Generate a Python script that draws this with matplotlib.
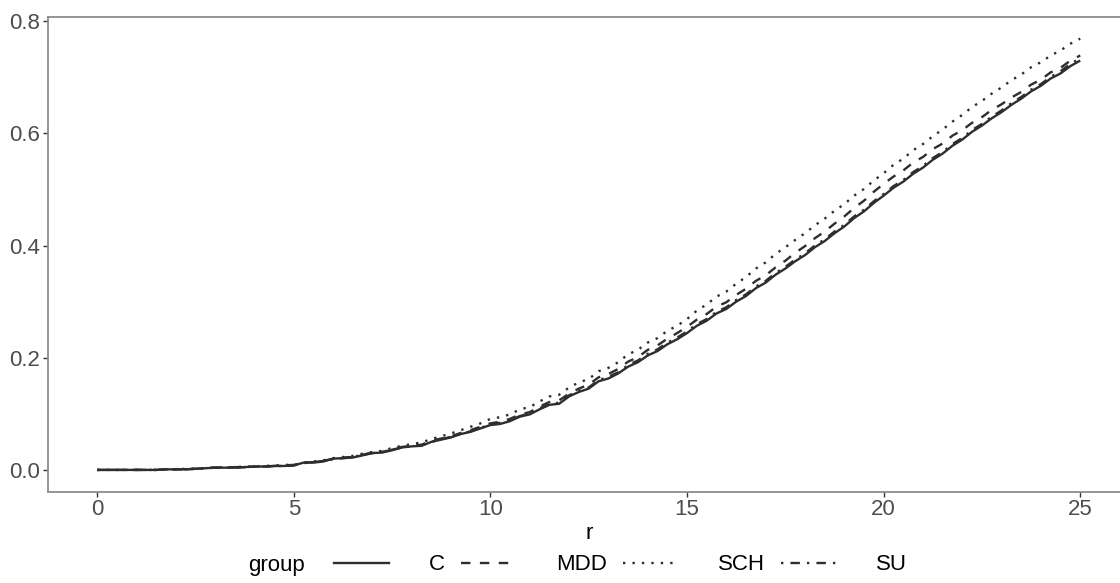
import matplotlib
matplotlib.use("Agg")
import matplotlib.pyplot as plt
from matplotlib.lines import Line2D
import numpy as np

plt.rcParams["font.family"] = ["Liberation Sans", "DejaVu Sans"]

# distance grid (step 0.25)
r = np.arange(0, 25.001, 0.25)

groups = ["C", "MDD", "SCH", "SU"]

C = [0.000, 0.000, 0.000, 0.000, 0.000, 0.000, 0.000, 0.001, 0.001, 0.001,
     0.002, 0.003, 0.004, 0.004, 0.004, 0.005, 0.006, 0.006, 0.007, 0.007,
     0.008, 0.013, 0.013, 0.015, 0.020, 0.021, 0.022, 0.026, 0.030, 0.031,
     0.035, 0.040, 0.042, 0.043, 0.050, 0.054, 0.058, 0.064, 0.068, 0.074,
     0.080, 0.082, 0.087, 0.095, 0.099, 0.108, 0.116, 0.118, 0.131, 0.139,
     0.145, 0.158, 0.163, 0.172, 0.184, 0.192, 0.204, 0.212, 0.224, 0.233,
     0.244, 0.257, 0.266, 0.279, 0.287, 0.300, 0.310, 0.324, 0.334, 0.348,
     0.359, 0.372, 0.383, 0.397, 0.408, 0.422, 0.434, 0.449, 0.461, 0.476,
     0.489, 0.503, 0.514, 0.528, 0.539, 0.553, 0.564, 0.578, 0.589, 0.603,
     0.614, 0.627, 0.638, 0.651, 0.662, 0.675, 0.685, 0.698, 0.707, 0.720,
     0.730]

MDD = [0.000, 0.000, 0.000, 0.000, 0.000, 0.000, 0.000, 0.001, 0.001, 0.001,
       0.002, 0.003, 0.004, 0.004, 0.005, 0.005, 0.006, 0.006, 0.007, 0.008,
       0.009, 0.013, 0.014, 0.016, 0.020, 0.022, 0.023, 0.027, 0.031, 0.032,
       0.036, 0.041, 0.043, 0.045, 0.052, 0.056, 0.060, 0.066, 0.071, 0.077,
       0.083, 0.086, 0.091, 0.099, 0.103, 0.113, 0.121, 0.124, 0.136, 0.145,
       0.152, 0.165, 0.171, 0.180, 0.193, 0.201, 0.214, 0.222, 0.234, 0.244,
       0.255, 0.268, 0.278, 0.291, 0.299, 0.312, 0.323, 0.337, 0.347, 0.361,
       0.373, 0.387, 0.399, 0.413, 0.425, 0.439, 0.452, 0.467, 0.480, 0.496,
       0.510, 0.523, 0.534, 0.548, 0.558, 0.572, 0.582, 0.596, 0.606, 0.619,
       0.629, 0.642, 0.652, 0.664, 0.674, 0.687, 0.696, 0.709, 0.717, 0.730,
       0.739]

SCH = [0.000, 0.000, 0.000, 0.000, 0.000, 0.000, 0.000, 0.001, 0.001, 0.002,
       0.002, 0.003, 0.004, 0.005, 0.005, 0.006, 0.006, 0.007, 0.008, 0.009,
       0.009, 0.013, 0.015, 0.017, 0.021, 0.023, 0.025, 0.029, 0.032, 0.034,
       0.039, 0.043, 0.046, 0.049, 0.055, 0.060, 0.065, 0.071, 0.077, 0.083,
       0.091, 0.094, 0.099, 0.108, 0.112, 0.122, 0.131, 0.134, 0.147, 0.156,
       0.162, 0.176, 0.182, 0.192, 0.206, 0.214, 0.227, 0.235, 0.248, 0.257,
       0.269, 0.284, 0.295, 0.309, 0.318, 0.332, 0.344, 0.359, 0.370, 0.385,
       0.397, 0.410, 0.422, 0.436, 0.448, 0.462, 0.474, 0.489, 0.501, 0.516,
       0.529, 0.544, 0.555, 0.570, 0.581, 0.595, 0.607, 0.621, 0.633, 0.647,
       0.658, 0.671, 0.682, 0.695, 0.705, 0.718, 0.727, 0.739, 0.748, 0.760,
       0.769]

SU = [0.000, 0.000, 0.000, 0.000, 0.000, 0.000, 0.000, 0.001, 0.001, 0.001,
      0.002, 0.003, 0.004, 0.004, 0.004, 0.005, 0.006, 0.006, 0.007, 0.007,
      0.008, 0.012, 0.014, 0.016, 0.019, 0.021, 0.023, 0.027, 0.030, 0.032,
      0.036, 0.040, 0.042, 0.044, 0.050, 0.055, 0.059, 0.064, 0.069, 0.075,
      0.081, 0.084, 0.089, 0.096, 0.101, 0.110, 0.117, 0.120, 0.133, 0.141,
      0.147, 0.160, 0.166, 0.174, 0.187, 0.195, 0.207, 0.215, 0.227, 0.236,
      0.247, 0.260, 0.269, 0.282, 0.290, 0.303, 0.313, 0.327, 0.337, 0.351,
      0.362, 0.375, 0.386, 0.400, 0.411, 0.425, 0.437, 0.452, 0.464, 0.479,
      0.492, 0.506, 0.517, 0.531, 0.542, 0.556, 0.567, 0.581, 0.592, 0.606,
      0.617, 0.630, 0.641, 0.654, 0.665, 0.678, 0.688, 0.701, 0.711, 0.724,
      0.734]

x_ticks = [0, 5, 10, 15, 20, 25]
y_ticks = [0.0, 0.2, 0.4, 0.6, 0.8]

series = {"C": C, "MDD": MDD, "SCH": SCH, "SU": SU}
styles = {"C": "-", "MDD": (0, (4, 4)), "SCH": (0, (1, 3)), "SU": (0, (1, 3, 4, 3))}

line_col = "#2E2E2E"
text_col = "#4D4D4D"
border_col = "#8C8C8C"
lw = 1.7

W, H = 1120, 583
fig = plt.figure(figsize=(W / 100, H / 100), dpi=100)
ax = fig.add_axes([48 / W, (H - 491.5) / H, (1129.4 - 48) / W, (491.5 - 16.5) / H])

for g in groups:
    ax.plot(r, series[g], color=line_col, linestyle=styles[g], linewidth=lw,
            solid_capstyle="butt", dash_capstyle="butt")

ax.set_xlim(-1.25, 26.25)
ax.set_ylim(-0.0385, 0.8085)
ax.set_xticks(x_ticks)
ax.set_xticklabels([str(t) for t in x_ticks])
ax.set_yticks(y_ticks)
ax.set_yticklabels([f"{t:.1f}" for t in y_ticks])

for s in ax.spines.values():
    s.set_color(border_col)
    s.set_linewidth(1.3)
ax.tick_params(axis="both", length=3.5, width=1.0, color="#333333",
               labelsize=16, labelcolor=text_col, pad=2)
ax.set_xlabel("r", fontsize=16, color="black", labelpad=2)

# legend along the bottom: title on the left, keys in one row
fs = 16
em = fs * 100 / 72
legend_y = 1 - 565 / H
handles = [Line2D([], [], color=line_col, linestyle=styles[g], linewidth=lw)
           for g in groups]
leg = fig.legend(handles, groups, loc="center left",
                 bbox_to_anchor=(334 / W, legend_y),
                 ncol=4, frameon=False, fontsize=fs,
                 handlelength=55 / em, handletextpad=40 / em,
                 columnspacing=16 / em, borderpad=0.0, borderaxespad=0.0)
for t in leg.get_texts():
    t.set_color("black")
fig.text(248 / W, legend_y, "group", fontsize=fs, color="black",
         ha="left", va="center")

fig.savefig("out.png", dpi=100)
